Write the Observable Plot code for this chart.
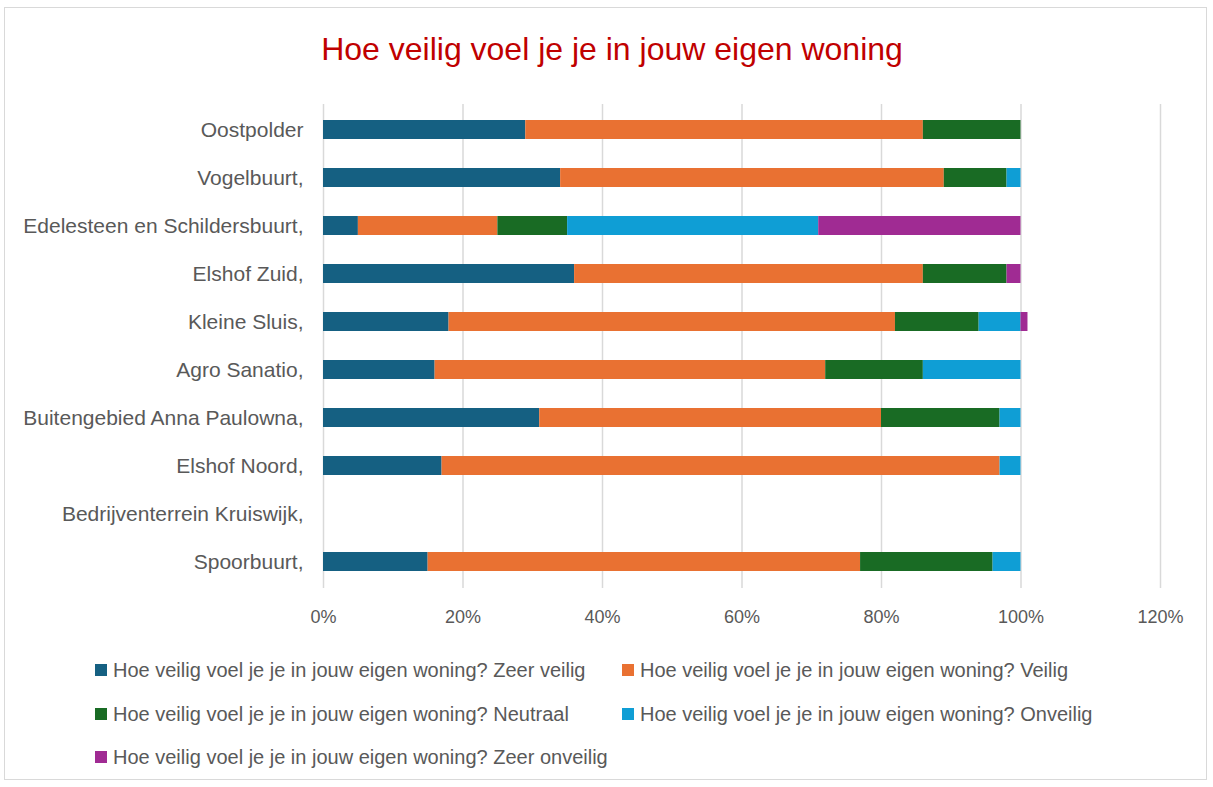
<!DOCTYPE html>
<html>
<head>
<meta charset="utf-8">
<script src="https://cdn.jsdelivr.net/npm/d3@7"></script>
<script src="https://cdn.jsdelivr.net/npm/@observablehq/plot@0.6"></script>
<style>
  html, body { margin: 0; padding: 0; background: #fff; }
  #frame { position: absolute; left: 4px; top: 7px; width: 1203px; height: 773px; border: 1px solid #d9d9d9; box-sizing: border-box; }
  #title { position: absolute; left: 0; top: 29px; width: 1224px; text-align: center; color: #C00000; font-family: "Liberation Sans Narrow", "Liberation Sans", sans-serif; font-size: 32px; line-height: 40px; }
  #chart { position: absolute; left: 0; top: 90px; }
  #legend { position: absolute; left: 0; top: 0; font-family: "Liberation Sans", sans-serif; font-size: 20px; color: #595959; }
  .item { position: absolute; white-space: nowrap; display: flex; align-items: center; }
  .sw { width: 12px; height: 12px; margin-right: 6px; display: inline-block; }
</style>
</head>
<body>
<div id="frame"></div>
<div id="title">Hoe veilig voel je je in jouw eigen woning</div>
<div id="chart"></div>
<div id="legend"></div>
<script>
const areas = ["Oostpolder", "Vogelbuurt,", "Edelesteen en Schildersbuurt,", "Elshof Zuid,", "Kleine Sluis,", "Agro Sanatio,", "Buitengebied Anna Paulowna,", "Elshof Noord,", "Bedrijventerrein Kruiswijk,", "Spoorbuurt,"];
const series = ["Hoe veilig voel je je in jouw eigen woning? Zeer veilig", "Hoe veilig voel je je in jouw eigen woning? Veilig", "Hoe veilig voel je je in jouw eigen woning? Neutraal", "Hoe veilig voel je je in jouw eigen woning? Onveilig", "Hoe veilig voel je je in jouw eigen woning? Zeer onveilig"];
const colors = ["#156082", "#E97132", "#196B24", "#0F9ED5", "#A02B93"];
const zeerVeilig  = [29, 34, 5, 36, 18, 16, 31, 17, 0, 15];
const veilig      = [57, 55, 20, 50, 64, 56, 49, 80, 0, 62];
const neutraal    = [14, 9, 10, 12, 12, 14, 17, 0, 0, 19];
const onveilig    = [0, 2, 36, 0, 6, 14, 3, 3, 0, 4];
const zeerOnveilig= [0, 0, 29, 2, 1, 0, 0, 0, 0, 0];
const xTicks = [0, 20, 40, 60, 80, 100, 120];

const cols = [zeerVeilig, veilig, neutraal, onveilig, zeerOnveilig];
const data = [];
areas.forEach((a, i) => cols.forEach((c, j) => { if (c[i] > 0) data.push({area: a, serie: series[j], value: c[i]}); }));

const W = 1213, H = 545;
const plot = Plot.plot({
  width: W, height: H,
  marginLeft: 323, marginRight: 53, marginTop: 14, marginBottom: 47,
  style: {fontFamily: "Liberation Sans, sans-serif", fontSize: "18px", color: "#595959", background: "transparent"},
  x: {domain: [0, 120], ticks: xTicks, tickFormat: d => d + "%", label: null},
  y: {domain: areas, paddingInner: 0.6, paddingOuter: 0.3, label: null},
  color: {domain: series, range: colors},
  marks: [
    Plot.gridX(xTicks, {stroke: "#d9d9d9", strokeOpacity: 1, strokeWidth: 1.5}),
    Plot.barX(data, Plot.stackX({x: "value", y: "area", fill: "serie", order: series})),
    Plot.axisX({ticks: xTicks, tickFormat: d => d + "%", tickSize: 0, tickPadding: 22, fill: "#595959", fontSize: 18, label: null}),
    Plot.axisY({tickSize: 0, tickPadding: 20, fill: "#595959", fontSize: 21, label: null})
  ]
});
document.getElementById("chart").appendChild(plot);

const legend = document.getElementById("legend");
const pos = [[95, 670], [622, 670], [95, 714], [622, 714], [95, 757]];
series.forEach((s, i) => {
  const d = document.createElement("div");
  d.className = "item";
  d.style.left = pos[i][0] + "px";
  d.style.top = (pos[i][1] - 12) + "px";
  d.style.height = "24px";
  const sw = document.createElement("span");
  sw.className = "sw";
  sw.style.background = colors[i];
  d.appendChild(sw);
  d.appendChild(document.createTextNode(s));
  legend.appendChild(d);
});
</script>
</body>
</html>
